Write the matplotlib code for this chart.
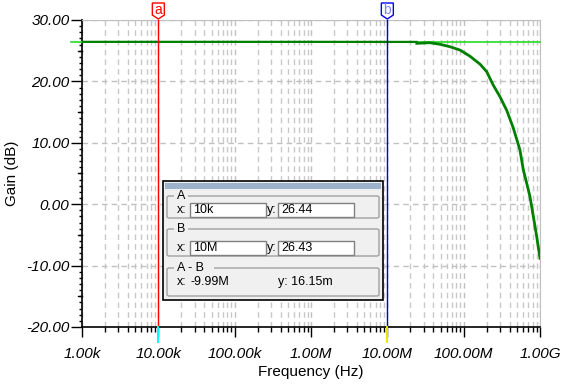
import numpy as np
import matplotlib
matplotlib.use("Agg")
import matplotlib.pyplot as plt
from matplotlib.patches import Rectangle, Polygon, FancyBboxPatch
from matplotlib.ticker import FixedLocator, NullFormatter
import matplotlib.transforms as mtransforms

plt.rcParams['font.family'] = ['Liberation Sans', 'DejaVu Sans']

W, H = 584, 385

# flat part of the gain trace
flat_freq = [1e3, 1e4, 1e5, 1e6, 1e7, 2.43e7]
flat_gain = [26.44, 26.44, 26.44, 26.44, 26.43, 26.43]

# roll-off part of the gain trace
roll_freq = [2.43e7, 3.62e7, 4.90e7, 6.62e7, 8.96e7, 1.21e8, 1.64e8, 2.00e8, 2.44e8,
             2.99e8, 3.66e8, 4.47e8, 5.47e8, 6.04e8, 6.70e8, 7.40e8, 8.18e8, 9.06e8, 1e9]
roll_gain = [26.2, 26.3, 26.04, 25.65, 25.1, 24.1, 22.8, 21.6, 19.4,
             17.5, 15.3, 12.4, 8.8, 5.6, 3.4, 1.2, -2.0, -5.3, -8.8]

ref_level = 26.36

x_ticks = [1e3, 1e4, 1e5, 1e6, 1e7, 1e8, 1e9]
x_labels = ["1.00k", "10.00k", "100.00k", "1.00M", "10.00M", "100.00M", "1.00G"]
y_ticks = [-20, -10, 0, 10, 20, 30]
y_labels = ["-20.00", "-10.00", "0.00", "10.00", "20.00", "30.00"]

cursor_a, cursor_b = 1e4, 1e7

readout = {
    "A": ("10k", "26.44"),
    "B": ("10M", "26.43"),
    "A - B": ("-9.99M", "16.15m"),
}


def fx(px):
    return px / W


def fy(py):
    return 1 - py / H


fig = plt.figure(figsize=(W / 100, H / 100), dpi=100)
fig.patch.set_facecolor("white")
ax = fig.add_axes([fx(82), fy(327), fx(540) - fx(82), fy(20) - fy(327)])
ax.set_xscale("log")
ax.set_xlim(1e3, 1e9)
ax.set_ylim(-20, 30)

minor_x = [m * 10 ** e for e in range(3, 9) for m in range(2, 10)]
ax.xaxis.set_major_locator(FixedLocator(x_ticks))
ax.xaxis.set_minor_locator(FixedLocator(minor_x))
ax.xaxis.set_minor_formatter(NullFormatter())
ax.set_xticklabels(x_labels)
ax.yaxis.set_major_locator(FixedLocator(y_ticks))
ax.yaxis.set_minor_locator(FixedLocator([v for v in range(-20, 31) if v % 10 != 0]))
ax.set_yticklabels(y_labels)

for lab in ax.get_xticklabels() + ax.get_yticklabels():
    lab.set_fontstyle("italic")
    lab.set_fontsize(11)

ax.tick_params(axis="y", which="major", length=8, width=1, pad=1)
ax.tick_params(axis="y", which="minor", length=2.3, width=1)
ax.tick_params(axis="x", which="major", length=7.5, width=1, pad=7)
ax.tick_params(axis="x", which="minor", length=3.6, width=1)

dash = (0, (4, 3))
ax.grid(True, which="major", color="#c0c0c0", ls=dash, lw=1)
ax.grid(True, which="minor", axis="x", color="#c8c8c8", ls=dash, lw=1)
ax.set_axisbelow(True)

for s in ["top", "right"]:
    ax.spines[s].set_color("#c0c0c0")
for s in ["left", "bottom"]:
    ax.spines[s].set_color("black")
    ax.spines[s].set_linewidth(1.2)

# longer ticks at the mid (x5) positions of the y axis
ytrans = mtransforms.blended_transform_factory(ax.transAxes, ax.transData)
for v in [-15, -5, 5, 15, 25]:
    ax.plot([-4.5 / 458, 0], [v, v], color="black", lw=1, transform=ytrans, clip_on=False)

ax.set_xlabel("Frequency (Hz)", fontsize=11, labelpad=3)
ax.set_ylabel("Gain (dB)", fontsize=11, labelpad=5)

# reference level line
ax.plot([-11 / 458, 1], [ref_level, ref_level], color="#22dd22", lw=1.2,
        transform=ytrans, clip_on=False, zorder=3)

# gain trace
ax.plot(flat_freq, flat_gain, color="#008000", lw=1.6, zorder=4)
ax.plot(roll_freq, roll_gain, color="#008000", lw=2.0, zorder=4)

# cursors
xtrans = mtransforms.blended_transform_factory(ax.transData, ax.transAxes)
for cx, col, below, tagcol, txtcol, letter in [
        (cursor_a, "red", "cyan", "red", "red", "a"),
        (cursor_b, "#0000cc", "#e8e800", "#0000ee", "#8080ff", "b")]:
    ax.plot([cx, cx], [0, 1], color=col, lw=1, transform=xtrans, zorder=5)
    ax.plot([cx, cx], [0, -15 / 307], color=below, lw=1.4, transform=xtrans,
            clip_on=False, zorder=5)
    cxp = ax.transData.transform((cx, 0))[0]
    tag = Polygon([(cxp - 6, H - 3), (cxp + 6, H - 3), (cxp + 6, H - 15),
                   (cxp, H - 19), (cxp - 6, H - 15)], closed=True,
                  facecolor="white", edgecolor=tagcol, lw=1,
                  transform=None, zorder=6)
    fig.patches.append(tag)
    fig.text(cxp / W, fy(10), letter, color=txtcol, fontsize=10,
             ha="center", va="center", zorder=7)

# readout window
def prect(x0, y0, x1, y1, **kw):
    r = Rectangle((fx(x0), fy(y1)), fx(x1) - fx(x0), fy(y0) - fy(y1),
                  transform=fig.transFigure, **kw)
    fig.patches.append(r)
    return r


prect(163, 181, 383, 300, facecolor="#f0f0f0", edgecolor="black", lw=1.2, zorder=10)
prect(165, 183, 381, 189, facecolor="#9db3cd", edgecolor="none", zorder=11)

groups = [("A", 196, 218), ("B", 229, 256), ("A - B", 268, 296)]
dlg_font = 9
for name, gy0, gy1 in groups:
    box = FancyBboxPatch((fx(167), fy(gy1)), fx(379) - fx(167), fy(gy0) - fy(gy1),
                         boxstyle="round,pad=0,rounding_size=0.004",
                         transform=fig.transFigure, facecolor="none",
                         edgecolor="#a0a0a0", lw=1, zorder=11)
    fig.patches.append(box)
    tw = 7 + 6.5 * len(name)
    prect(174, gy0 - 1, 174 + tw, gy0 + 1, facecolor="#f0f0f0", edgecolor="none", zorder=12)
    fig.text(fx(177), fy(gy0), name, fontsize=dlg_font, va="center", ha="left", zorder=13)

    xv, yv = readout[name]
    if name == "A - B":
        fig.text(fx(177), fy(gy0 + 14), "x:", fontsize=dlg_font, va="center", zorder=13)
        fig.text(fx(191), fy(gy0 + 14), xv, fontsize=dlg_font, va="center", zorder=13)
        fig.text(fx(278), fy(gy0 + 14), "y: " + yv, fontsize=dlg_font, va="center", zorder=13)
    else:
        ty0, ty1 = gy1 - 15, gy1 - 1
        for bx0, bx1, val in [(190, 266, xv), (278, 354, yv)]:
            prect(bx0, ty0, bx1, ty1, facecolor="white", edgecolor="#808080", lw=1, zorder=12)
            fig.text(fx(bx0 + 3), fy((ty0 + ty1) / 2), val, fontsize=dlg_font,
                     va="center", zorder=13)
        fig.text(fx(177), fy((ty0 + ty1) / 2), "x:", fontsize=dlg_font, va="center", zorder=13)
        fig.text(fx(267), fy((ty0 + ty1) / 2), "y:", fontsize=dlg_font, va="center", zorder=13)

fig.savefig("out.png", dpi=100)
